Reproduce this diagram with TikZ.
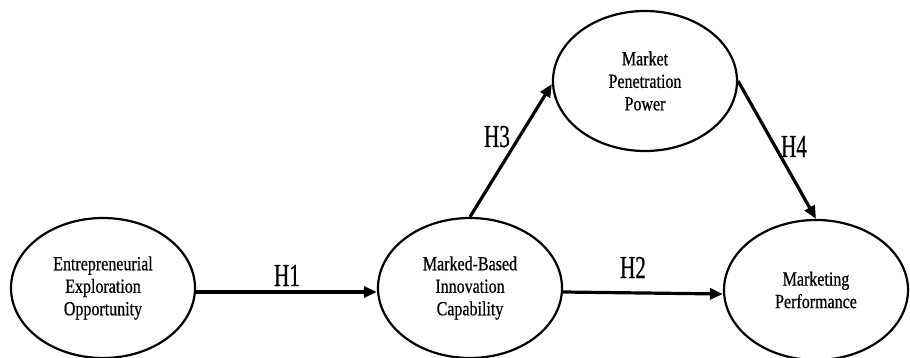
\documentclass[tikz,border=0pt]{standalone}
\usepackage{fontspec}
\setmainfont{Liberation Serif}
\newfontfamily\elfont[FakeStretch=0.8,FakeBold=0.6]{Liberation Serif}
\newfontfamily\hfont[FakeStretch=0.66,FakeBold=0.5]{Liberation Serif}
\usetikzlibrary{shapes.geometric,arrows.meta}
\tikzset{
  construct/.style={draw, line width=2.2pt, ellipse, inner sep=0pt,
    minimum width=184pt, minimum height=140pt, align=center,
    font=\elfont\fontsize{20}{22.5}\selectfont},
  path/.style={line width=3.2pt, -{Triangle[length=13pt,width=11pt]}},
  hyp/.style={anchor=base, inner sep=0pt, font=\hfont\fontsize{32}{32}\selectfont}
}
\begin{document}
\begin{tikzpicture}[x=1pt,y=-1pt]
\useasboundingbox (0,0) rectangle (910,358);
\node[construct] (eeo) at (103,288) {Entrepreneurial\\Exploration\\Opportunity};
\node[construct] (mbic) at (470,288) {Marked-Based\\Innovation\\Capability};
\node[construct] (mpp) at (645,81) {Market\\Penetration\\Power};
\node[construct] (mp) at (816,290) {Marketing\\Performance};
\draw[path] ([yshift=-4pt]eeo.east) -- ([yshift=-4pt]mbic.west);
\draw[path] ([yshift=-4pt]mbic.east) -- ([yshift=-4pt]mp.west);
\draw[path] (mbic.north) -- ([yshift=-3pt]mpp.west);
\draw[path] (mpp.east) -- (mp.north);
\node[hyp] (h1) at (287,286) {H1};
\node[hyp] (h2) at (633,278) {H2};
\node[hyp] (h3) at (497,147) {H3};
\node[hyp] (h4) at (794,157) {H4};
\end{tikzpicture}
\end{document}
